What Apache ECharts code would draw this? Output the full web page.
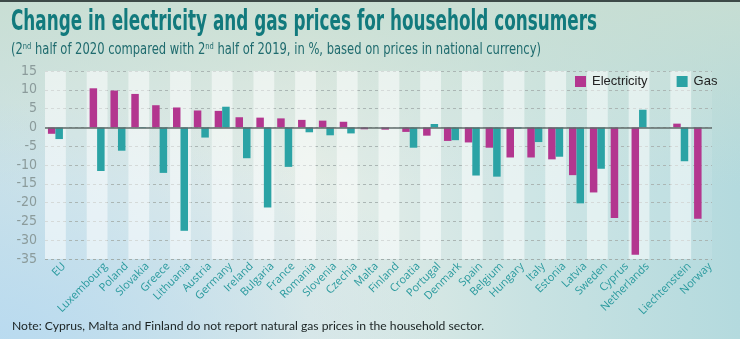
<!DOCTYPE html>
<html>
<head>
<meta charset="utf-8">
<script src="https://cdn.jsdelivr.net/npm/echarts@6/dist/echarts.min.js"></script>
<style>
html,body{margin:0;padding:0;}
body{width:740px;height:339px;overflow:hidden;
background:
 radial-gradient(ellipse 60% 70% at 0% 100%, rgba(184,218,240,0.95) 0%, rgba(184,218,240,0) 100%),
 linear-gradient(to bottom, rgba(200,222,210,0.9) 0%, rgba(200,222,210,0) 55%),
 linear-gradient(to right, #cfe3e6 0%, #e3ece6 42%, #c8e2e2 72%, #b4dade 100%);
}
#top{position:absolute;left:0;top:0;width:740px;height:2px;background:#3d4a48;}
#chart{position:absolute;left:0;top:0;width:740px;height:339px;}
</style>
</head>
<body>
<div id="top"></div>
<div id="chart"></div>
<script>
const categories = ['EU',' ','Luxembourg','Poland','Slovakia','Greece','Lithuania','Austria','Germany','Ireland','Bulgaria','France','Romania','Slovenia','Czechia','Malta','Finland','Croatia','Portugal','Denmark','Spain','Belgium','Hungary','Italy','Estonia','Latvia','Sweden','Cyprus','Netherlands','  ','Liechtenstein','Norway'];
const electricity = [-1.7, null, 10.4, 9.8, 8.9, 5.9, 5.3, 4.5, 4.4, 2.7, 2.6, 2.4, 2.0, 1.8, 1.5, -0.5, -0.6, -1.2, -2.2, -3.6, -4.0, -5.4, -8.0, -8.0, -8.5, -12.7, -17.3, -24.1, -33.9, null, 1.0, -24.3];
const gas = [-3.1, null, -11.6, -6.2, -0.2, -12.1, -27.5, -2.7, 5.5, -8.2, -21.3, -10.5, -1.3, -2.1, -1.6, null, null, -5.4, 0.9, -3.4, -12.8, -13.1, -0.3, -3.9, -7.8, -20.2, -11.0, null, 4.7, null, -9.0, null];
const yTicks = {min: -35, max: 15, interval: 5};
const titleText = 'Change in electricity and gas prices for household consumers';
const subParts = ['(2', 'nd', ' half of 2020 compared with 2', 'nd', ' half of 2019, in %, based on prices in national currency)'];
const noteText = 'Note: Cyprus, Malta and Finland do not report natural gas prices in the household sector.';

const cond = "'DejaVu Sans Condensed',sans-serif";
const ctx = document.createElement('canvas').getContext('2d');
function measure(str, font) { ctx.font = font; return ctx.measureText(str).width; }

// title scaled horizontally to the reference's condensed width
const titleFont = 'bold 28px ' + cond;
const titleScale = 586 / measure(titleText, titleFont);
const subFont = '15.5px ' + cond;
const supFont = '9px ' + cond;
let subW = 0;
subParts.forEach((p, i) => { subW += measure(p, i % 2 ? supFont : subFont); });
const subScale = 530 / subW;
const subRich = subParts.map((p, i) => i % 2 ? '{s|' + p + '}' : '{n|' + p + '}').join('');
const noteFont = '12px Lato, sans-serif';
const noteScale = 472 / measure(noteText, noteFont);

const chart = echarts.init(document.getElementById('chart'), null, {renderer: 'canvas'});
chart.setOption({
  backgroundColor: 'transparent',
  animation: false,
  graphic: [{
    type: 'text', left: 11, top: 9, scaleX: titleScale, originX: 0,
    style: {text: titleText, font: titleFont, fill: '#127a7d'}
  }, {
    type: 'text', left: 11, top: 42, scaleX: subScale, originX: 0,
    style: {text: subRich, fill: '#1f6b6e',
      rich: {n: {fontFamily: cond, fontSize: 15.5, fill: '#1f6b6e'},
             s: {fontFamily: cond, fontSize: 9, fill: '#1f6b6e', verticalAlign: 'top', padding: [0, 0, 7, 0]}}}
  }, {
    type: 'text', left: 12, top: 320, scaleX: noteScale, originX: 0,
    style: {text: noteText, font: noteFont, fill: '#1a2222'}
  }],
  legend: {
    left: 575, top: 75, padding: 0,
    icon: 'rect', itemWidth: 11, itemHeight: 11, itemGap: 29, itemStyle: {borderWidth: 0},
    textStyle: {fontFamily: "'Liberation Sans',Arial,sans-serif", fontSize: 13, color: '#222222', padding: [0, 0, 0, 1]},
    data: ['Electricity', 'Gas']
  },
  grid: {left: 45, right: 28, top: 71, bottom: 80},
  xAxis: {
    type: 'category',
    data: categories,
    axisLine: {show: false},
    axisTick: {show: false},
    splitLine: {show: false},
    splitArea: {show: true, areaStyle: {color: ['rgba(255,255,255,0.55)', 'rgba(255,255,255,0.1)']}},
    axisLabel: {interval: 0, rotate: 45, margin: 14, fontFamily: "'Open Sans',sans-serif", fontSize: 11, color: '#2a9a9e', padding: [0, -12, 0, 0]}
  },
  yAxis: {
    type: 'value',
    min: yTicks.min, max: yTicks.max, interval: yTicks.interval,
    axisLine: {show: false},
    axisTick: {show: false},
    axisLabel: {margin: 8, fontFamily: cond, fontSize: 14, color: '#8b9b9b'},
    splitLine: {show: true, lineStyle: {color: '#a2aeac', type: [3, 3], width: 1}}
  },
  series: [{
    name: 'Electricity', type: 'bar', data: electricity,
    barWidth: 7.5, barGap: '0%',
    itemStyle: {color: '#b3368f'},
    markLine: {
      silent: true, symbol: 'none', label: {show: false},
      lineStyle: {color: '#5f6b6a', width: 1.5, type: 'solid'},
      data: [{yAxis: 0}]
    }
  }, {
    name: 'Gas', type: 'bar', data: gas,
    barWidth: 7.5, barGap: '0%',
    itemStyle: {color: '#2ba3a5'}
  }]
});
</script>
</body>
</html>
